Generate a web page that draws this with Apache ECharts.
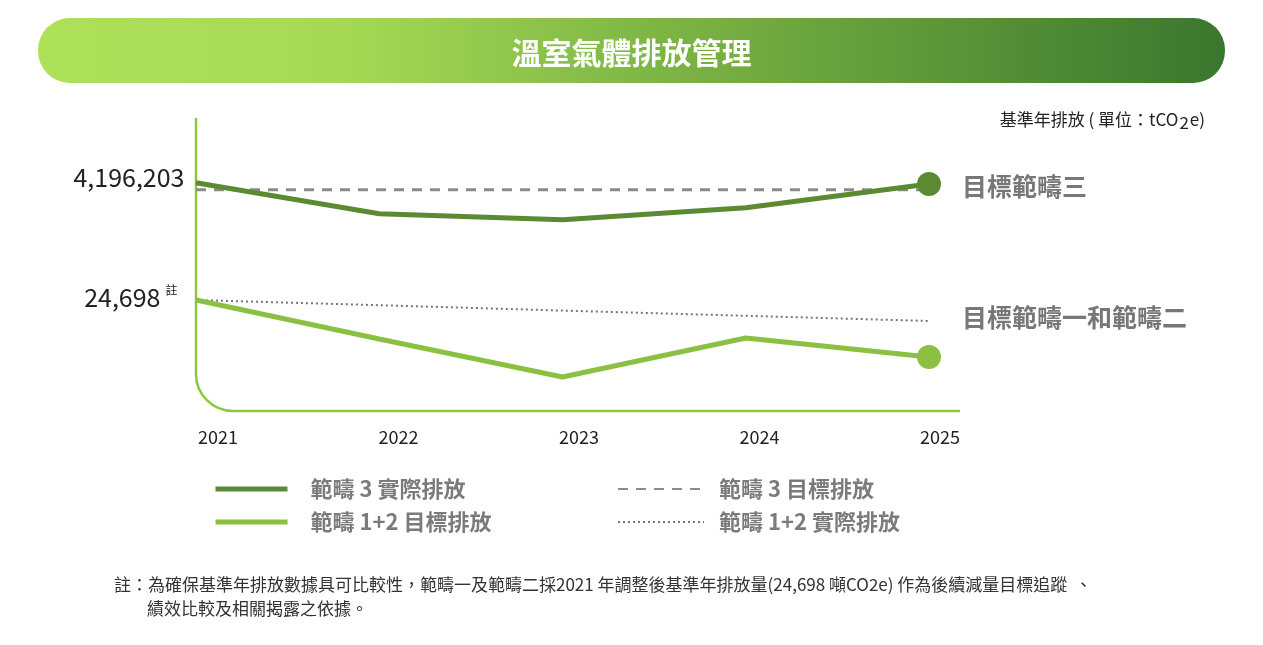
<!DOCTYPE html>
<html>
<head>
<meta charset="utf-8">
<script src="https://cdn.jsdelivr.net/npm/echarts@6/dist/echarts.min.js"></script>
<style>
html,body{margin:0;padding:0;background:#fff;}
#chart{width:1263px;height:645px;}
</style>
</head>
<body>
<div id="chart"></div>
<script>
const years = ['2021', '2022', '2023', '2024', '2025'];
// tCO2e
const scope3Actual = [4196203, 4041000, 4011000, 4071000, 4190000];
const scope3Target = [4161000, 4161000, 4161000, 4161000, 4161000];
const scope12Target = [24698, 22750, 20850, 22800, 21850];
const scope12Actual = [24698, 24440, 24170, 23910, 23650];

const nameS3A = '範疇 3 實際排放';
const nameS3T = '範疇 3 目標排放';
const nameS12T = '範疇 1+2 目標排放';
const nameS12A = '範疇 1+2 實際排放';

const FONT = '"Noto Sans CJK TC", "Noto Sans", sans-serif';
const DARK = '#5b8a32';
const LIGHT = '#8cc043';
const FRAME = '#8dc63f';

function withEndDot(vals, firstLabel) {
  return vals.map(function (v, i) {
    if (i === vals.length - 1) return { value: v, symbol: 'circle', symbolSize: 24 };
    if (i === 0 && firstLabel) return { value: v, symbol: 'circle', symbolSize: 1, label: firstLabel };
    return v;
  });
}

const chart = echarts.init(document.getElementById('chart'), null, { renderer: 'canvas' });
chart.setOption({
  animation: false,
  textStyle: { fontFamily: FONT },
  title: {
    text: '溫室氣體排放管理',
    left: 'center',
    top: 33,
    z: 10,
    textStyle: { color: '#ffffff', fontSize: 30, fontWeight: 'bold', fontFamily: FONT }
  },
  graphic: [
    {
      type: 'rect', z: 1, silent: true,
      shape: { x: 38, y: 18, width: 1187, height: 65, r: 32 },
      style: {
        fill: new echarts.graphic.LinearGradient(0, 0, 1, 0, [
          { offset: 0, color: '#aee15a' },
          { offset: 0.25, color: '#a6da55' },
          { offset: 0.6, color: '#72ab40' },
          { offset: 1, color: '#3a772e' }
        ])
      }
    },
    {
      type: 'line', z: 1, silent: true,
      shape: { x1: 196, y1: 118, x2: 196, y2: 374 },
      style: { stroke: FRAME, lineWidth: 2.5 }
    },
    {
      type: 'arc', z: 1, silent: true,
      shape: { cx: 233, cy: 374, r: 37, startAngle: Math.PI / 2, endAngle: Math.PI, clockwise: true },
      style: { stroke: FRAME, lineWidth: 2.5, fill: null }
    },
    {
      type: 'line', z: 1, silent: true,
      shape: { x1: 233, y1: 411, x2: 960, y2: 411 },
      style: { stroke: FRAME, lineWidth: 2.5 }
    },
    {
      type: 'text', z: 5, silent: true, x: 1205, y: 120,
      style: {
        text: '{a|基準年排放 ( 單位：tCO}{s|2}{a|e)}',
        align: 'right', verticalAlign: 'middle',
        rich: {
          a: { fontSize: 17, fill: '#222', fontFamily: FONT },
          s: { fontSize: 17, fill: '#222', fontFamily: FONT, padding: [6, 1, 0, 1] }
        }
      }
    },
    {
      type: 'text', z: 5, silent: true, x: 114, y: 585,
      style: {
        text: '註：為確保基準年排放數據具可比較性，範疇一及範疇二採2021 年調整後基準年排放量(24,698 噸CO2e) 作為後續減量目標追蹤  、',
        fontSize: 17, fill: '#333', fontFamily: FONT, verticalAlign: 'middle'
      }
    },
    {
      type: 'text', z: 5, silent: true, x: 147, y: 609,
      style: {
        text: '績效比較及相關揭露之依據。',
        fontSize: 17, fill: '#333', fontFamily: FONT, verticalAlign: 'middle'
      }
    }
  ],
  legend: [
    {
      data: [nameS3A, nameS12T],
      orient: 'vertical', left: 213, top: 478, padding: 0,
      itemWidth: 72, itemHeight: 22, itemGap: 11,
      selectedMode: false,
      itemStyle: { opacity: 0 },
      lineStyle: { width: 5 },
      textStyle: { fontSize: 22, fontWeight: 'bold', color: '#7b7b7b', fontFamily: FONT, padding: [0, 0, 0, 18] }
    },
    {
      data: [nameS3T, nameS12A],
      orient: 'vertical', left: 617, top: 478, padding: 0,
      itemWidth: 86, itemHeight: 22, itemGap: 11,
      selectedMode: false,
      itemStyle: { opacity: 0 },
      lineStyle: { width: 2 },
      textStyle: { fontSize: 22, fontWeight: 'bold', color: '#7b7b7b', fontFamily: FONT, padding: [0, 0, 0, 10] }
    }
  ],
  grid: [
    { left: 196, right: 334, top: 122, height: 288 },
    { left: 218, width: 722, top: 122, height: 288 }
  ],
  xAxis: [
    { type: 'category', gridIndex: 0, data: years, boundaryGap: false, show: false },
    {
      type: 'category', gridIndex: 1, data: years, boundaryGap: false,
      axisLine: { show: false }, axisTick: { show: false }, splitLine: { show: false },
      axisLabel: { fontSize: 18, color: '#222', margin: 18, fontFamily: FONT }
    }
  ],
  yAxis: [
    { type: 'value', gridIndex: 0, min: 3060000, max: 4500000, show: false, splitLine: { show: false } },
    { type: 'value', gridIndex: 0, min: 19200, max: 33600, show: false, splitLine: { show: false } },
    { type: 'value', gridIndex: 1, min: 0, max: 1, show: false, splitLine: { show: false } }
  ],
  series: [
    {
      name: nameS3T, type: 'line', xAxisIndex: 0, yAxisIndex: 0,
      symbol: 'none', z: 3,
      data: scope3Target,
      itemStyle: { color: '#8f8a87' },
      lineStyle: { color: '#8f8a87', width: 3, type: [10, 8] }
    },
    {
      name: nameS3A, type: 'line', xAxisIndex: 0, yAxisIndex: 0,
      symbol: 'none', z: 4,
      data: withEndDot(scope3Actual, {
        show: true, position: 'left', distance: 11, offset: [0, -5],
        formatter: function (p) { return p.value.toLocaleString('en-US'); },
        fontSize: 25, color: '#222', fontFamily: FONT
      }),
      itemStyle: { color: DARK },
      lineStyle: { color: DARK, width: 5 },
      endLabel: {
        show: true, formatter: '目標範疇三', distance: 33, offset: [0, 2],
        fontSize: 25, fontWeight: 'bold', color: '#777777', fontFamily: FONT
      }
    },
    {
      name: nameS12T, type: 'line', xAxisIndex: 0, yAxisIndex: 1,
      symbol: 'none', z: 4,
      data: withEndDot(scope12Target, {
        show: true, position: 'left', distance: 18, offset: [0, -3],
        formatter: function (p) { return '{a|' + p.value.toLocaleString('en-US') + '}{b|註}'; },
        rich: {
          a: { fontSize: 25, color: '#222', fontFamily: FONT },
          b: { fontSize: 12, color: '#222', fontFamily: FONT, padding: [0, 0, 14, 5] }
        }
      }),
      itemStyle: { color: LIGHT },
      lineStyle: { color: LIGHT, width: 5 }
    },
    {
      name: nameS12A, type: 'line', xAxisIndex: 0, yAxisIndex: 1,
      symbol: 'none', z: 3,
      data: scope12Actual,
      itemStyle: { color: '#777777' },
      lineStyle: { color: '#777777', width: 2, type: [2, 3] },
      endLabel: {
        show: true, formatter: '目標範疇一和範疇二', distance: 33, offset: [0, -4],
        fontSize: 25, fontWeight: 'bold', color: '#777777', fontFamily: FONT
      }
    }
  ]
});
</script>
</body>
</html>
